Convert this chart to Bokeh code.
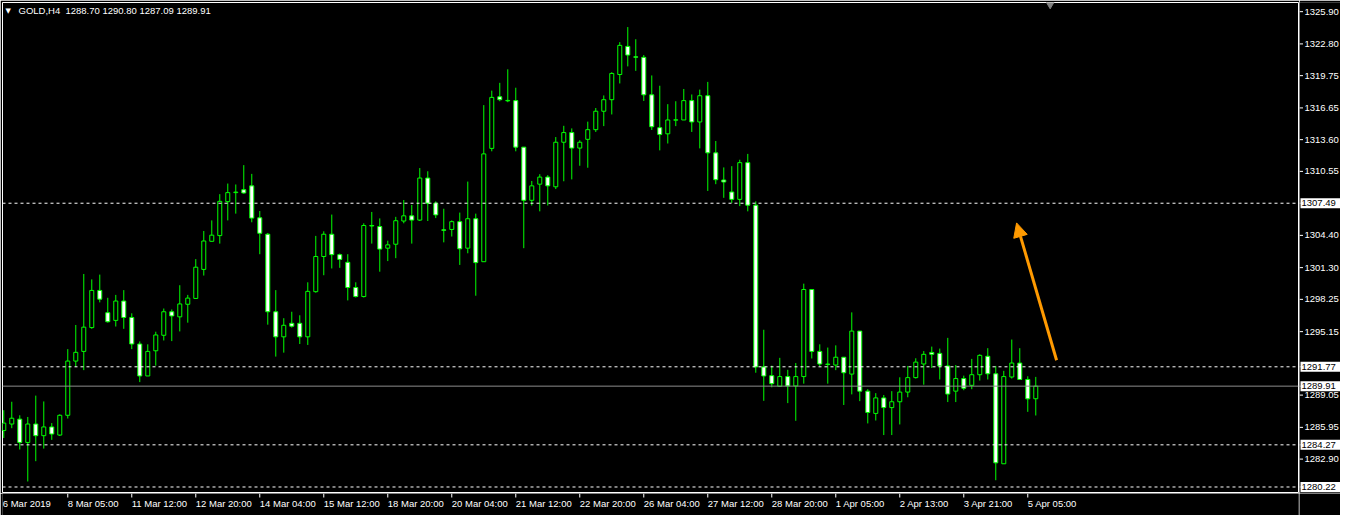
from bokeh.plotting import figure
from bokeh.models import (Range1d, Span, Label, Arrow, NormalHead, ColumnDataSource)
from bokeh.layouts import gridplot
from bokeh.core.properties import value
from bokeh.embed import file_html
from bokeh.resources import INLINE

# ---------------- data (GOLD, H4) ----------------
opens = [1285.65, 1286.27, 1286.74, 1284.50, 1286.27, 1285.15, 1285.99, 1285.21, 1287.11, 1292.32,
         1293.25, 1295.54, 1299.11, 1296.97, 1296.23, 1298.09, 1296.51, 1293.96, 1290.89, 1293.31,
         1294.80, 1297.06, 1296.57, 1297.78, 1298.34, 1301.13, 1303.83, 1304.38, 1307.64, 1308.51,
         1308.79, 1309.16, 1306.09, 1304.51, 1297.06, 1294.65, 1295.95, 1295.95, 1294.65, 1298.99,
         1302.37, 1304.51, 1302.55, 1301.81, 1299.39, 1298.52, 1305.35, 1305.25, 1303.17, 1303.55,
         1305.78, 1306.28, 1305.87, 1309.91, 1307.49, 1304.93, 1304.97, 1305.72, 1303.17, 1306.00,
         1301.87, 1312.76, 1317.72, 1317.37, 1317.35, 1312.88, 1307.77, 1309.32, 1310.00, 1309.07,
         1313.35, 1314.28, 1312.79, 1313.63, 1314.56, 1316.33, 1317.44, 1319.86, 1322.56, 1321.56,
         1321.51, 1317.91, 1314.75, 1314.16, 1315.47, 1315.49, 1317.35, 1315.30, 1317.82, 1312.33,
         1309.72, 1308.57, 1307.86, 1311.39, 1307.30, 1291.76, 1290.92, 1289.90, 1290.83, 1289.93,
         1290.83, 1299.20, 1293.25, 1292.03, 1291.94, 1292.69, 1291.07, 1295.20, 1289.43, 1287.29,
         1288.78, 1287.85, 1288.41, 1289.34, 1290.73, 1292.04, 1293.15, 1293.06, 1291.85, 1289.43,
         1290.64, 1289.99, 1291.01, 1292.78, 1291.10, 1282.45, 1290.79, 1292.13, 1290.55, 1288.70]
highs = [1287.60, 1288.41, 1287.11, 1286.95, 1289.00, 1288.44, 1286.36, 1287.20, 1293.47, 1295.79,
         1300.69, 1300.17, 1300.63, 1298.40, 1298.68, 1299.14, 1296.91, 1294.21, 1293.93, 1295.14,
         1297.37, 1297.28, 1299.61, 1298.68, 1302.12, 1304.82, 1305.84, 1308.36, 1309.38, 1309.29,
         1311.15, 1310.31, 1306.74, 1304.63, 1299.14, 1296.44, 1297.06, 1296.72, 1299.89, 1304.35,
         1304.79, 1306.40, 1302.65, 1302.59, 1299.89, 1305.56, 1306.65, 1306.03, 1303.89, 1306.18,
         1307.80, 1307.33, 1310.87, 1310.56, 1307.67, 1306.96, 1305.84, 1306.59, 1309.57, 1306.49,
         1316.92, 1318.31, 1319.06, 1320.36, 1318.59, 1312.88, 1309.63, 1310.28, 1310.19, 1313.85,
         1314.93, 1314.68, 1313.54, 1315.33, 1316.64, 1317.85, 1320.08, 1322.97, 1324.42, 1323.25,
         1321.73, 1319.77, 1318.78, 1317.01, 1317.29, 1318.47, 1317.94, 1318.41, 1319.15, 1313.47,
         1310.93, 1311.05, 1311.67, 1312.23, 1307.67, 1295.33, 1291.88, 1292.63, 1291.48, 1292.13,
         1299.76, 1299.20, 1293.93, 1293.62, 1293.83, 1292.69, 1297.00, 1295.20, 1289.62, 1289.24,
         1289.06, 1289.43, 1290.76, 1291.85, 1292.59, 1293.28, 1293.71, 1293.52, 1294.55, 1291.94,
         1290.92, 1292.53, 1292.97, 1293.56, 1291.85, 1291.38, 1294.39, 1293.56, 1290.86, 1290.80]
lows = [1284.93, 1285.87, 1283.82, 1280.75, 1282.70, 1283.91, 1284.75, 1285.12, 1286.80, 1291.76,
        1291.45, 1295.42, 1297.96, 1296.01, 1295.64, 1295.42, 1293.47, 1290.30, 1290.89, 1291.88,
        1294.30, 1294.24, 1295.17, 1296.01, 1298.34, 1300.54, 1303.80, 1303.61, 1305.84, 1306.49,
        1308.39, 1305.66, 1302.59, 1295.82, 1292.75, 1293.13, 1295.54, 1293.96, 1293.87, 1298.89,
        1300.57, 1301.22, 1301.28, 1298.15, 1298.43, 1298.43, 1303.61, 1300.91, 1301.93, 1302.21,
        1305.56, 1303.61, 1305.78, 1305.78, 1306.06, 1303.73, 1304.29, 1301.56, 1302.68, 1298.60,
        1301.87, 1312.48, 1317.29, 1317.20, 1312.48, 1303.17, 1307.27, 1306.71, 1307.27, 1308.85,
        1309.60, 1309.78, 1311.09, 1310.90, 1314.34, 1314.90, 1316.02, 1319.00, 1320.64, 1320.21,
        1317.32, 1314.53, 1312.57, 1313.23, 1314.90, 1315.49, 1314.34, 1312.76, 1308.67, 1309.32,
        1308.01, 1307.52, 1307.21, 1306.71, 1291.20, 1288.50, 1289.80, 1289.83, 1288.28, 1286.58,
        1290.15, 1292.57, 1291.85, 1290.15, 1291.45, 1288.10, 1289.12, 1288.47, 1286.33, 1286.61,
        1285.21, 1285.21, 1286.23, 1288.84, 1290.64, 1290.05, 1291.66, 1290.55, 1288.38, 1288.38,
        1289.52, 1289.62, 1290.45, 1290.55, 1280.87, 1282.45, 1290.64, 1290.55, 1287.44, 1287.09]
closes = [1286.36, 1286.83, 1284.50, 1286.27, 1285.15, 1285.99, 1285.31, 1287.11, 1292.32, 1293.16,
          1295.58, 1299.11, 1298.27, 1296.10, 1298.09, 1296.51, 1293.96, 1290.89, 1293.25, 1294.83,
          1297.06, 1296.66, 1297.81, 1298.37, 1301.34, 1303.86, 1304.42, 1307.67, 1308.51, 1308.56,
          1308.48, 1306.06, 1304.60, 1297.06, 1294.65, 1295.76, 1295.67, 1294.65, 1299.02, 1302.37,
          1304.51, 1302.55, 1302.09, 1299.39, 1298.52, 1305.35, 1305.30, 1303.08, 1303.49, 1305.81,
          1306.28, 1305.87, 1309.91, 1307.49, 1306.37, 1304.89, 1305.72, 1303.11, 1306.00, 1301.78,
          1312.23, 1317.66, 1317.44, 1317.33, 1312.88, 1307.77, 1309.16, 1310.00, 1309.16, 1313.35,
          1314.28, 1312.79, 1313.35, 1314.56, 1316.33, 1317.44, 1319.96, 1322.66, 1321.73, 1321.52,
          1317.91, 1314.84, 1314.09, 1315.49, 1315.51, 1317.35, 1315.30, 1317.82, 1312.33, 1309.75,
          1309.53, 1307.86, 1311.39, 1307.30, 1291.76, 1290.89, 1290.15, 1290.83, 1289.93, 1290.83,
          1299.20, 1293.25, 1292.04, 1292.00, 1292.69, 1291.20, 1295.20, 1289.43, 1287.38, 1288.78,
          1287.85, 1288.41, 1289.34, 1290.73, 1292.22, 1292.97, 1292.97, 1291.85, 1289.15, 1290.64,
          1289.71, 1291.01, 1292.87, 1291.10, 1282.54, 1290.83, 1292.13, 1290.55, 1288.69, 1289.91]

date_ticks = [0, 8, 16, 24, 32, 40, 48, 56, 64, 72, 80, 88, 96, 104, 112, 120, 128]
date_labels = ["6 Mar 2019", "8 Mar 05:00", "11 Mar 12:00", "12 Mar 20:00", "14 Mar 04:00",
               "15 Mar 12:00", "18 Mar 20:00", "20 Mar 04:00", "21 Mar 12:00", "22 Mar 20:00",
               "26 Mar 04:00", "27 Mar 12:00", "28 Mar 20:00", "1 Apr 05:00", "2 Apr 13:00",
               "3 Apr 21:00", "5 Apr 05:00"]
price_ticks = [1325.90, 1322.80, 1319.75, 1316.65, 1313.60, 1310.55, 1304.40, 1301.30,
               1298.25, 1295.15, 1289.05, 1285.95, 1282.90]
level_lines = [1307.49, 1291.77, 1284.27, 1280.22]
bid_price = 1289.91
title_text = "GOLD,H4\u00a0\u00a01288.70 1290.80 1287.09 1289.91"
arrow_from = (131.6, 1292.4)
arrow_to = (126.6, 1305.6)

# ---------------- layout ----------------
MAIN_W, MAIN_H = 1299, 493
RIGHT_W, BOTTOM_H = 41, 22
FRAME_H = MAIN_H - 2 - 1
FRAME_W = MAIN_W - 2 - 1
x0 = -0.16
x1 = x0 + FRAME_W / 8.0
y0, y1 = 1279.69, 1326.78
upp = (y1 - y0) / FRAME_H

GREEN = "#00ff00"
ORANGE = "#ff9a00"
FONT = "Liberation Sans"
FS = "9.5px"


def base(fig):
    fig.background_fill_color = "black"
    fig.border_fill_color = "black"
    for g in list(fig.xgrid) + list(fig.ygrid):
        g.visible = False
    return fig


xr = Range1d(x0, x1)
yr = Range1d(y0, y1)

# main chart
p = figure(width=MAIN_W, height=MAIN_H, x_range=xr, y_range=yr,
           x_axis_location=None, y_axis_location=None,
           output_backend="svg", toolbar_location=None,
           min_border_left=2, min_border_top=2, min_border_right=1, min_border_bottom=1)
base(p)
p.outline_line_color = "white"
p.outline_line_width = 1

for lv in level_lines:
    p.add_layout(Span(location=lv, dimension="width", line_color="white",
                      line_dash="3 3", line_width=1))
p.add_layout(Span(location=bid_price, dimension="width", line_color="#8c8c8c", line_width=1))

idx = list(range(len(closes)))
bull = [c >= o for o, c in zip(opens, closes)]
src = ColumnDataSource(dict(
    x=idx, o=opens, h=highs, l=lows, c=closes,
    top=[max(o, c) for o, c in zip(opens, closes)],
    bottom=[min(o, c) for o, c in zip(opens, closes)],
    fill=["black" if b else "white" for b in bull],
))
p.segment(x0="x", y0="l", x1="x", y1="h", source=src, line_color=GREEN, line_width=1)
p.vbar(x="x", top="top", bottom="bottom", width=0.5, source=src,
       fill_color="fill", line_color=GREEN, line_width=1)

# chart shift marker
p.scatter(x=[130.8], y=[y1], marker="inverted_triangle", size=11,
          fill_color="#808080", line_color="#808080")

p.add_layout(Arrow(end=NormalHead(size=14, fill_color=ORANGE, line_color=ORANGE),
                   x_start=arrow_from[0], y_start=arrow_from[1],
                   x_end=arrow_to[0], y_end=arrow_to[1],
                   line_color=ORANGE, line_width=3))

p.add_layout(Label(x=x0, y=y1 - 8 * upp, x_offset=3, text="▼", text_color="white",
                   text_font_size="7px", text_baseline="middle", text_font="DejaVu Sans"))
p.add_layout(Label(x=x0, y=y1 - 8 * upp, x_offset=16, text=title_text, text_color="white",
                   text_font=FONT, text_font_size=FS, text_baseline="middle"))

# right price scale
r = figure(width=RIGHT_W, height=MAIN_H, x_range=Range1d(0, RIGHT_W), y_range=yr,
           x_axis_location=None, y_axis_location=None,
           output_backend="svg", toolbar_location=None,
           min_border_left=0, min_border_top=2, min_border_right=0, min_border_bottom=1)
base(r)
r.outline_line_color = None
r.segment(x0=[0] * len(price_ticks), x1=[3.5] * len(price_ticks), y0=price_ticks, y1=price_ticks,
          line_color="white", line_width=1)
r.text(x=[5] * len(price_ticks), y=price_ticks, text=[f"{t:.2f}" for t in price_ticks],
       text_color="white", text_font=value(FONT), text_font_size=FS,
       text_baseline="middle", text_align="left")
hl = level_lines + [bid_price]
r.quad(left=[1] * len(hl), right=[RIGHT_W] * len(hl),
       top=[v + 5 * upp for v in hl], bottom=[v - 5 * upp for v in hl],
       fill_color="white", line_color=None)
r.segment(x0=[0] * len(hl), x1=[1] * len(hl), y0=hl, y1=hl, line_color="white", line_width=1)
r.text(x=[2] * len(hl), y=hl, text=[f"{v:.2f}" for v in hl],
       text_color="black", text_font=value(FONT), text_font_size=FS,
       text_baseline="middle", text_align="left")

# bottom time scale
b = figure(width=MAIN_W, height=BOTTOM_H, x_range=xr, y_range=Range1d(0, BOTTOM_H),
           x_axis_location=None, y_axis_location=None,
           output_backend="svg", toolbar_location=None,
           min_border_left=2, min_border_top=0, min_border_right=1, min_border_bottom=0)
base(b)
b.outline_line_color = None
tk = date_ticks[1:]
b.segment(x0=tk, x1=tk, y0=[BOTTOM_H] * len(tk), y1=[BOTTOM_H - 4] * len(tk),
          line_color="white", line_width=1)
b.text(x=date_ticks, y=[BOTTOM_H - 10] * len(date_ticks), text=date_labels,
       x_offset=[-1] + [0] * (len(date_ticks) - 1),
       text_color="white", text_font=value(FONT), text_font_size=FS,
       text_baseline="middle", text_align="left")

# bottom-right corner
c = figure(width=RIGHT_W, height=BOTTOM_H, x_range=Range1d(0, 1), y_range=Range1d(0, 1),
           x_axis_location=None, y_axis_location=None,
           output_backend="svg", toolbar_location=None,
           min_border_left=0, min_border_top=0, min_border_right=0, min_border_bottom=0)
base(c)
c.outline_line_color = None

grid = gridplot([[p, r], [b, c]], toolbar_location=None)
grid.spacing = 0

open("out.html", "w").write(file_html(grid, INLINE))
